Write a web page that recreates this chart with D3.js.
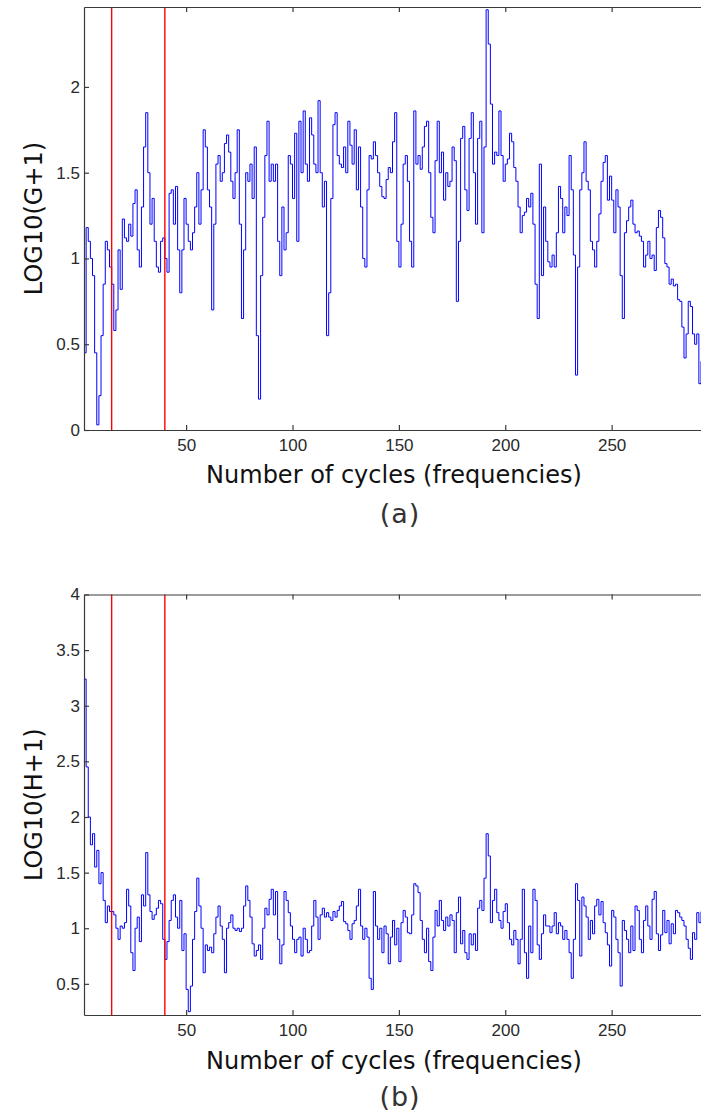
<!DOCTYPE html>
<html>
<head>
<meta charset="utf-8">
<script src="https://cdn.jsdelivr.net/npm/d3@7"></script>
<style>
  body { margin: 0; background: #fff; }
  svg { display: block; }
</style>
</head>
<body>
<svg id="chart" width="701" height="1115"></svg>
<script>
// frequency index shown on the x axis (first sample is cycle 2)
const cycles = d3.range(2, 293);

// panel (a): LOG10(G+1), one value per cycle
const logG = [
  0.45,1.18,1.1,1.0,0.9,0.45,0.03,0.2,0.55,0.85,
  1.1,1.05,0.95,0.85,0.58,0.7,1.05,0.82,1.23,1.12,
  1.1,1.2,1.13,1.32,1.4,1.05,0.95,1.3,1.65,1.85,
  1.5,1.2,1.35,1.1,0.95,0.92,1.1,1.12,1.0,0.92,
  1.38,1.4,1.2,1.42,1.05,0.8,1.05,1.35,1.2,1.1,
  1.05,1.15,1.3,1.5,1.2,1.4,1.75,1.65,1.4,1.3,
  0.7,1.2,1.55,1.6,1.45,1.5,1.67,1.72,1.62,1.45,
  1.35,1.5,1.75,1.2,0.65,1.05,1.5,1.45,1.55,1.35,
  1.65,0.55,0.18,0.9,1.24,1.6,1.8,1.45,1.55,1.45,
  1.55,1.1,0.9,1.3,1.05,1.15,1.6,1.55,1.35,1.73,
  1.1,1.8,1.5,1.86,1.55,1.45,1.82,1.72,1.55,1.5,
  1.92,1.5,1.3,1.45,0.55,0.8,1.35,1.78,1.85,1.6,
  1.55,1.53,1.65,1.5,1.8,1.66,1.55,1.75,1.4,1.65,
  1.3,1.0,0.95,1.4,1.6,1.58,1.68,1.6,1.5,1.42,
  1.36,1.35,1.46,1.53,1.5,1.68,1.85,1.1,0.95,1.2,
  1.55,1.6,1.45,1.1,0.95,1.86,1.55,1.6,1.52,1.65,
  1.77,1.8,1.5,1.24,1.15,1.57,1.8,1.5,1.62,1.34,
  1.5,1.42,1.45,1.65,1.57,0.75,1.1,1.7,1.77,1.4,
  1.28,1.7,1.85,1.5,1.2,1.7,1.8,1.15,1.65,2.45,
  2.25,1.9,1.55,1.62,1.6,1.86,1.6,1.45,1.55,1.58,
  1.73,1.68,1.53,1.45,1.3,1.15,1.25,1.27,1.35,1.3,
  1.38,1.2,0.85,0.65,1.55,0.9,1.3,1.1,0.98,0.95,
  1.02,0.95,1.15,1.42,1.35,1.15,1.3,1.25,1.6,1.4,
  1.02,0.32,0.95,1.4,1.5,1.68,1.45,1.4,1.1,1.05,
  0.95,1.1,1.26,1.45,1.56,1.6,1.34,1.48,1.34,1.15,
  1.4,1.3,0.9,0.65,1.15,1.22,1.3,1.34,1.2,1.15,
  1.16,1.13,1.1,0.95,1.02,1.1,1.0,1.02,0.93,1.18,
  1.28,1.24,1.12,0.97,0.95,0.85,0.88,0.84,0.85,0.76,
  0.75,0.6,0.42,0.56,0.75,0.72,0.56,0.5,0.56,0.27,
  0.4
];

// panel (b): LOG10(H+1)
const logH = [
  3.24,2.45,2.0,1.75,1.85,1.55,1.7,1.4,1.5,1.25,
  1.05,1.2,1.15,1.15,1.12,1.0,0.9,1.02,1.0,1.05,
  1.35,1.2,0.78,0.62,1.0,1.1,0.88,1.3,1.2,1.68,
  1.3,1.15,1.08,1.12,1.18,1.25,1.22,0.9,0.72,0.88,
  1.07,1.25,1.3,1.1,1.0,1.25,0.8,0.95,0.45,0.25,
  0.48,0.9,1.15,1.45,1.2,1.0,0.6,0.85,0.8,0.83,
  0.78,0.95,1.1,1.2,1.02,0.9,0.6,1.0,1.05,1.12,
  1.0,0.98,1.0,0.97,1.0,1.2,1.38,1.25,1.1,0.86,
  0.75,0.8,0.85,0.72,1.0,1.18,1.12,1.26,1.35,1.12,
  1.33,0.9,0.68,0.85,1.33,1.25,1.14,1.02,0.9,0.78,
  0.9,0.92,0.75,1.0,0.9,0.78,0.8,1.02,1.25,1.1,
  0.9,1.12,1.18,1.1,1.14,1.1,1.07,1.15,1.1,1.16,
  1.2,1.24,1.06,1.04,0.98,0.9,1.04,1.07,1.2,1.35,
  1.02,0.9,1.0,0.92,0.55,0.45,1.33,1.02,0.9,1.0,
  0.78,1.02,0.95,0.68,0.92,1.07,0.85,1.0,0.7,1.05,
  1.16,1.1,0.96,0.95,1.12,1.4,1.38,1.32,1.07,0.9,
  0.78,1.0,0.7,0.62,0.92,1.16,1.02,1.25,1.07,0.98,
  1.1,1.02,1.12,1.07,0.78,1.14,1.28,0.86,0.98,0.78,
  0.72,0.95,0.85,0.95,0.8,1.18,1.25,1.16,1.45,1.85,
  1.65,1.05,1.25,1.35,1.14,1.07,1.0,1.15,1.22,1.05,
  0.9,0.85,0.98,0.9,0.68,0.9,1.35,0.78,0.55,1.02,
  0.78,1.35,1.25,0.85,0.72,0.95,1.12,1.02,1.02,0.96,
  1.02,1.14,0.95,1.05,1.02,0.9,0.98,0.9,0.78,0.55,
  0.9,1.4,1.25,0.75,1.28,1.2,1.1,0.9,1.07,0.95,
  1.2,1.26,1.12,1.24,1.05,0.96,0.85,0.66,1.16,1.1,
  0.9,0.78,0.48,1.07,0.98,0.9,0.78,1.02,0.8,1.2,
  1.16,0.9,0.78,1.07,1.2,1.02,0.9,1.26,1.33,0.95,
  0.8,0.94,1.16,0.96,1.07,0.86,1.04,0.95,1.16,1.14,
  1.1,1.07,1.02,0.9,0.82,0.72,0.96,0.9,1.14,1.05,
  1.15
];

// selected band boundaries (red lines)
const bandLimits = [15, 40];

const xTicks = [50, 100, 150, 200, 250];
const yTicksG = [0, 0.5, 1, 1.5, 2];
const yTicksH = [0.5, 1, 1.5, 2, 2.5, 3, 3.5, 4];

const svg = d3.select("#chart");

const x = d3.scaleLinear()
  .domain([2, 292])
  .range([84, 701]);

function panel(opts) {
  const y = d3.scaleLinear()
    .domain(opts.yDomain)
    .range([opts.bottom, opts.top]);

  const g = svg.append("g");

  g.append("clipPath")
    .attr("id", opts.id + "-clip")
    .append("rect")
    .attr("x", x.range()[0])
    .attr("y", opts.top)
    .attr("width", x.range()[1] - x.range()[0])
    .attr("height", opts.bottom - opts.top);

  const line = d3.line()
    .x((d, i) => x(cycles[i]))
    .y(d => y(d))
    .curve(d3.curveStepAfter);

  g.append("path")
    .datum(opts.values)
    .attr("clip-path", "url(#" + opts.id + "-clip)")
    .attr("fill", "none")
    .attr("stroke", "#0000ff")
    .attr("stroke-width", 1)
    .attr("d", line);

  g.selectAll(".band")
    .data(bandLimits)
    .enter().append("line")
    .attr("class", "band")
    .attr("x1", d => x(d)).attr("x2", d => x(d))
    .attr("y1", opts.top).attr("y2", opts.bottom)
    .attr("stroke", "#ff0000")
    .attr("stroke-width", 1.4);

  // MATLAB style box with inward ticks
  const bottomAxis = g.append("g")
    .attr("transform", "translate(0," + opts.bottom + ")")
    .call(d3.axisBottom(x).tickValues(xTicks).tickSizeInner(-5).tickSizeOuter(0).tickPadding(9));

  const topAxis = g.append("g")
    .attr("transform", "translate(0," + opts.top + ")")
    .call(d3.axisTop(x).tickValues(xTicks).tickSizeInner(-5).tickSizeOuter(0).tickFormat(""));

  const leftAxis = g.append("g")
    .attr("transform", "translate(" + x.range()[0] + ",0)")
    .call(d3.axisLeft(y).tickValues(opts.yTicks).tickSizeInner(-5).tickSizeOuter(0).tickPadding(4)
      .tickFormat(d3.format("~g")));

  [bottomAxis, topAxis, leftAxis].forEach(a => {
    a.select(".domain").attr("stroke", "#3a3a3a").attr("stroke-width", 1.2);
    a.selectAll(".tick line").attr("stroke", "#3a3a3a").attr("stroke-width", 1.2);
    a.selectAll("text")
      .attr("fill", "#2a2a2a")
      .style("font-family", "'Liberation Sans', Arial, sans-serif")
      .style("font-size", "17px");
  });

  g.append("text")
    .attr("x", 394)
    .attr("y", opts.titleY)
    .attr("text-anchor", "middle")
    .attr("fill", "#111")
    .style("font-family", "'DejaVu Sans', sans-serif")
    .style("font-size", "24px")
    .text("Number of cycles (frequencies)");

  g.append("text")
    .attr("transform", "translate(42," + ((opts.top + opts.bottom) / 2) + ") rotate(-90)")
    .attr("text-anchor", "middle")
    .attr("fill", "#111")
    .style("font-family", "'DejaVu Sans', sans-serif")
    .style("font-size", "24px")
    .text(opts.yLabel);

  g.append("text")
    .attr("x", 400)
    .attr("y", opts.captionY)
    .attr("text-anchor", "middle")
    .attr("fill", "#333")
    .style("font-family", "'DejaVu Sans', sans-serif")
    .style("font-size", "27px")
    .style("letter-spacing", "1px")
    .text(opts.caption);
}

panel({
  id: "a", values: logG, yDomain: [0, 2.466], yTicks: yTicksG,
  top: 7, bottom: 430, titleY: 483, captionY: 523,
  yLabel: "LOG10(G+1)", caption: "(a)"
});

panel({
  id: "b", values: logH, yDomain: [0.22, 4], yTicks: yTicksH,
  top: 594.5, bottom: 1015, titleY: 1069, captionY: 1106,
  yLabel: "LOG10(H+1)", caption: "(b)"
});
</script>
</body>
</html>
